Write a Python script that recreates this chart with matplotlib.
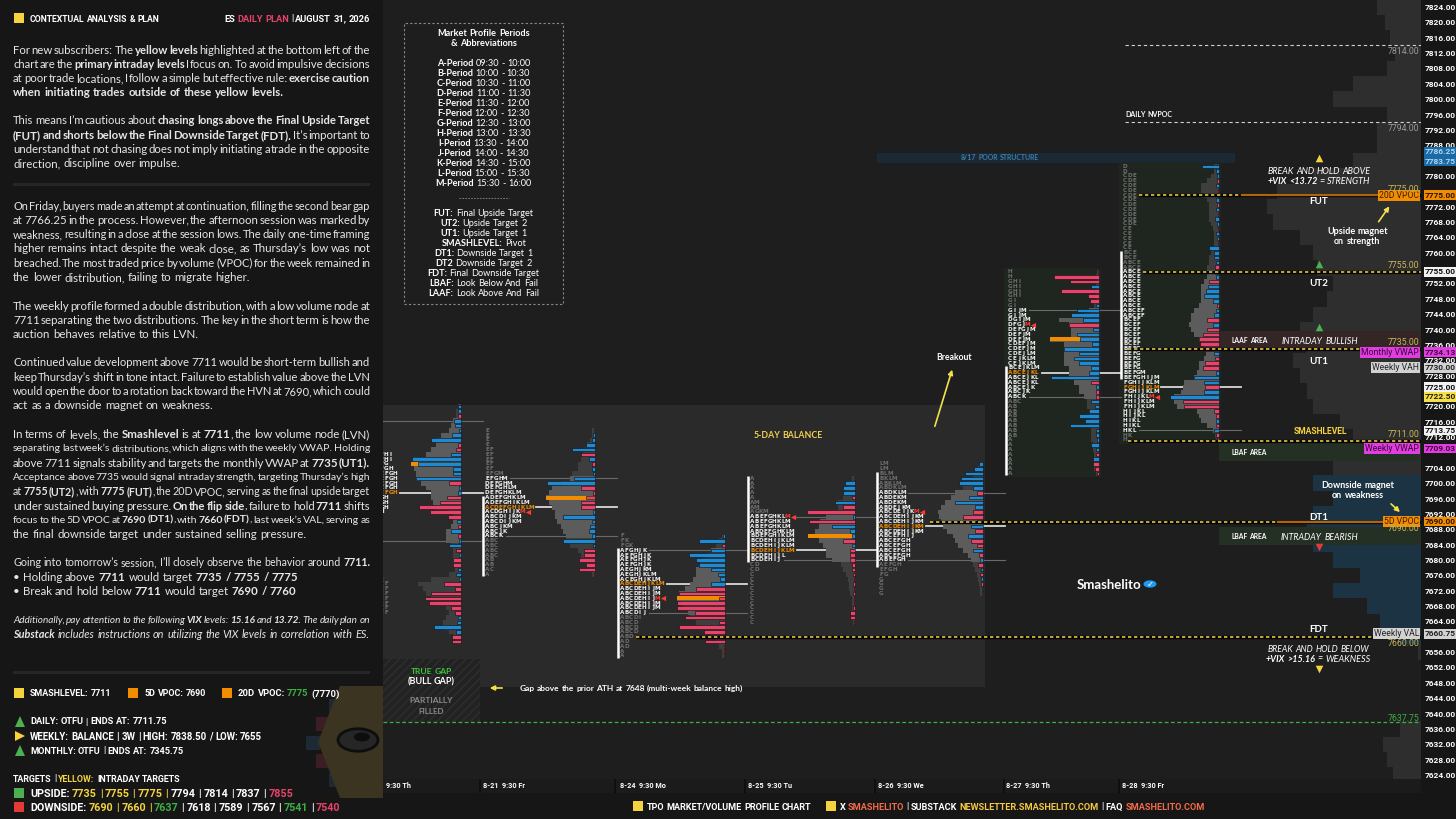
import re
import numpy as np
import matplotlib
matplotlib.use('Agg')
import matplotlib.pyplot as plt
from matplotlib.patches import Rectangle, Polygon, Circle, FancyArrowPatch

# ======================= DATA =======================
price_ticks = list(range(7624, 7825, 4))
comp_prices = list(range(7824, 7623, -4))
comp_width = [44, 36, 31, 26, 34, 68, 88, 34, 44, 44, 68, 108, 144, 154, 148, 121, 108, 104, 88, 94,
              108, 121, 115, 128, 121, 114, 108, 81, 68, 48, 88, 108, 88, 108, 114, 108, 88, 61, 88, 54,
              41, 21, 3, 0, 0, 0, 0, 21, 38, 34, 28]
comp_blue_range = (7660, 7700)

d0_tpo = ["A", "A", "AB", "AB", "AB", "ABC", "ABC", "ABC", "ABC", "ABCD",
          "BCDEFHI", "BCDEFHI", "BCDEFG", "BCDEFGH", "ABCDEFGH", "ABCDEFGH", "ABCDEFGH", "ABCDEFGH", "ABCDEFGH", "ABCDGH",
          "ABCDGH", "ABCDGH", "ABCDH", "ABCD", "ABCD", "ABC", "ABC", "ABC", "ABC", "AB",
          "AB", "AB", "AB", "AB", "ABC", "ABCD", "ABCDE", "ABCDEF", "ABCDEF", "ABCDEF",
          "ABCDEF", "ABCDEF", "ABCDEF", "ABCDEF", "ABC", "ABC", "AB", "AB", "A", "A"]
d0_vol = [3, 5, 5, 8, 10, 12, 20, 25, 25, 30, 35, 48, 50, 47, 45, 45, 40, 35, 30, 30,
          28, 25, 12, 8, 8, 10, 15, 15, 15, 10, 8, 8, 8, 8, 6, 12, 30, 43, 38, 35,
          30, 25, 15, 12, 15, 18, 18, 12, 8, 5]
d0_delta = [3, 3, -3, 7, 6, 2, 9, 30, -3, -5, 10, 49, 43, 8, 8, 45, -12, 2, 3, -14,
            -21, -42, -31, -13, 4, -3, 10, -3, 2, 12, -5, 2, -8, -8, 3, 5, 2, -17, -6, -30,
            -36, -32, -10, -6, 3, 4, 27, 5, -9, -9]

d1_tpo = ["E", "E", "E", "E", "EF", "EF", "EF", "EF", "EF", "EFGM", "EFGHM", "DEFGHM", "DEFGHLM",
          "DEFGHKLM", "ADEFGHKLM", "ADEFGHIKLM", "ACDEFGHIKLM", "ACDGHIJKM", "ABCDIJKM", "ABCDIJKM",
          "ABCJKM", "ABCJK", "ABCK", "ABC", "ABC", "ABC", "ABC", "AB", "AB", "AC", "A"]
d1_vol = [3, 3, 5, 8, 10, 12, 14, 17, 17, 23, 25, 34, 43, 46, 49, 46, 43, 40, 40, 38,
          34, 32, 29, 29, 25, 17, 14, 11, 9, 7, 3]
d1_delta = [1, 2, 3, 9, 23, -14, 6, -3, 3, 2, 21, 48, -14, -2, -9, -14, -14, 2, 32, 3,
            5, 6, 3, 32, 2, -11, -11, -16, -9, -16, -1]

d2_tpo = ["F", "FK", "FGK", "AFGHJK", "AEFGHJK", "AEFGHJK", "AEFGHJK", "AEGHJKM", "AEGHJKLM",
          "ACEGHJKLM", "ABCDEHJKLM", "ABCDEHIJM", "ABCDEHIJM", "ABCDEHIJM", "ABCDEHIJM", "ABCDEHIJM",
          "ABCDIJ", "ABCDI", "ABCD", "ABCD", "ABCD", "ABD", "AD", "AD", "A", "A"]
d2_vol = [3, 6, 9, 14, 17, 23, 25, 29, 29, 32, 35, 40, 46, 48, 44, 41, 37, 35, 29, 23, 17, 14, 9, 6, 3, 3]
d2_delta = [2, 26, -3, 14, 36, 29, 26, 14, 7, 5, 14, -29, -46, -6, -48, -48, -30, -40, -6, -46,
            -21, -23, -20, -1, -1, -1]

d3_tpo = ["A", "A", "A", "A", "A", "AM", "AM", "AGKM", "ABEFGHKLM", "ABEFGHKLM", "ABEFGHKLM",
          "ABDEFGHKLM", "BDEFGHIKLM", "BCDEHIJKLM", "BCDEHIJKLM", "BCDEHIJKLM", "BCDEHIJL", "BCDEHIJ",
          "CD", "CD", "C", "C", "C", "C", "C", "C", "C", "C", "C", "C", "C"]
d3_vol = [3, 6, 7, 9, 12, 17, 17, 23, 29, 35, 36, 40, 47, 36, 32, 29, 29, 23, 14, 12,
          9, 7, 6, 6, 5, 3, 3, 3, 3, 3, 2]
d3_delta = [1, 10, 12, 12, -3, 20, -12, -48, 2, -46, 23, 5, 3, -12, 3, -5, -5, -5, -3, -3,
            -2, -1, -2, -1, -2, -1, -1, -2, -5, -5, -1]

d4_tpo = ["LM", "LM", "BLM", "BKLM", "ABKLM", "ABDKLM", "ABDKLM", "ABDEKM", "ABDEKM", "ABDEJKM",
          "ABCDEIJKM", "ABCDEHIJKM", "ABCDEHIJKM", "ABCDEHIJKM", "ABCDEHIJKM", "ABCEFHIJ", "ABCEFGH",
          "ABCEFGH", "ABCEFGH", "ABCEFGH", "ABEFGH", "AEFGH", "EFGH", "FG", "G", "G", "G", "G"]
d4_vol = [3, 5, 8, 10, 15, 20, 28, 32, 38, 42, 45, 44, 42, 40, 36, 30, 28, 25, 20, 15,
          12, 10, 8, 6, 5, 4, 3, 3]
d4_delta = [4, 9, 18, 22, 24, 10, -6, 14, 28, 8, -10, -20, 6, 12, -8, 15, -12, -6, 10, -4,
            3, -5, 2, -3, 2, -2, 1, -1]

d5_tpo = ["H", "H", "GHI", "GHI", "GHI", "GHI", "GI", "GI", "GIJM", "GIJM", "DGIJM", "DFGJM",
          "DEFGJM", "DEFJM", "DEFJM", "CDEFJM", "CDEFJM", "CDEJLM", "CEJKLM", "CEJKLM", "BCEJKLM",
          "ABCEJKL", "ABCEJKL", "ABCEJKL", "ABCEJK", "ABCJK", "ABCK", "ABC", "AB", "AB", "AB", "AB",
          "AB", "AB", "AB", "A", "A", "A", "A", "A", "A", "A", "A"]
d5_vol = [2, 3, 3, 3, 3, 3, 3, 5, 10, 15, 40, 30, 28, 28, 49, 35, 35, 35, 35, 35,
          30, 30, 30, 25, 20, 20, 15, 12, 12, 10, 10, 10, 10, 8, 8, 8, 6, 6, 5, 5, 5, 5, 3]
d5_delta = [-1, -45, -29, 8, -38, -11, -9, 3, 22, 28, 16, -30, 6, 22, 19, 7, 35, 20, 25, 20,
            8, 10, 48, -8, 3, -3, -3, 8, 4, 10, 20, 14, 29, 3, 3, 2, 8, 3, -3, 6, -6, -4, -2]

d6_tpo = (["D", "D"] + ["CDE"] * 11 + ["CE"] * 5 + ["BCE"] * 2 + ["ABCE"] * 10 + ["ABCEF"] * 2
          + ["BCEF"] * 6 + ["BEFG"] * 5 + ["BEFGM", "BEFGHIJM", "FGHIJKLM", "FGHIJKLM", "FGHIJKLM",
          "FHIJKLM", "FHIJKLM", "FHIJKLM", "HIJKL", "HIJKL", "HIKL", "HIKL", "HKL", "HK", "H"])
d6_vol = [5, 5, 8, 12, 18, 18, 15, 12, 10, 10, 10, 10, 8, 6, 5, 5, 5, 6, 8, 10,
          10, 12, 12, 12, 15, 18, 18, 18, 18, 20, 25, 28, 28, 30, 28, 25, 20, 18, 15, 13,
          15, 20, 20, 22, 25, 35, 36, 38, 45, 45, 42, 22, 20, 18, 12, 6, 4, 3]
d6_delta = [17, 3, 2, -2, 3, -1, -2, 3, -2, 3, -1, 4, 2, -1, 3, 2, -1, 10, 5, 5,
            3, -4, 4, 3, -10, 11, 13, 15, 6, -2, 3, 5, -12, 6, -12, -16, -20, -19, -28, 5,
            -4, -14, -16, 3, 25, 15, -14, 15, 49, -36, -35, -5, -3, 3, -3, 5, -3, -2]

days_tpo = [d0_tpo, d1_tpo, d2_tpo, d3_tpo, d4_tpo, d5_tpo, d6_tpo]
days_vol = [d0_vol, d1_vol, d2_vol, d3_vol, d4_vol, d5_vol, d6_vol]
days_delta = [d0_delta, d1_delta, d2_delta, d3_delta, d4_delta, d5_delta, d6_delta]
day_top = [7720.0, 7713.75, 7686.25, 7701.25, 7705.0, 7755.0, 7782.5]
day_va = [(4, 29), (11, 23), (4, 17), (9, 18), (7, 21), (9, 27), (23, 56)]
day_tpoc = [19, 17, 11, 16, 14, 22, 47]
day_vpoc = [13, 15, 14, 13, None, 15, None]
day_close_row = [None, 18, 14, 9, 11, 12, 49]
day_labels = ['9:30 Th', '8-21  9:30 Fr', '8-24  9:30 Mo', '8-25  9:30 Tu', '8-26  9:30 We',
              '8-27  9:30 Th', '8-28  9:30 Fr']

levels = [7775, 7755, 7735, 7711, 7690, 7660]
level_names = ['FUT', 'UT2', 'UT1', 'SMASHLEVEL', 'DT1', 'FDT']
nvpoc_levels = [7814, 7794]
gap_level = 7637.75
vpoc20, vpoc5 = 7775, 7690
laaf_zone = (7734.9, 7739.6)
lbaf_zones = [(7705.8, 7710.5), (7683.9, 7688.6)]
poor_zone = (7783.5, 7786.0)
balance_zone = (7646.9, 7720.4)
gap_zone = (7637.8, 7654.2)

axis_tags = [(7786.25, '#1c6aa3', '#a9d6f7'), (7783.75, '#1c6aa3', '#a9d6f7'), (7775.00, '#f28c00', '#2a1400'),
             (7755.00, '#f2f2f2', '#111111'), (7734.13, '#e03ee0', '#3a003a'), (7730.00, '#d2d2d2', '#222222'),
             (7725.00, '#f2f2f2', '#111111'), (7722.50, '#f5df4d', '#222200'), (7713.75, '#f2f2f2', '#111111'),
             (7709.03, '#e03ee0', '#3a003a'), (7690.00, '#f28c00', '#2a1400'), (7660.75, '#d2d2d2', '#222222')]
side_tags = [('20D VPOC', 7775.0, '#f28c00', '#3a1a00'), ('Monthly VWAP', 7734.13, '#e03ee0', '#3a003a'),
             ('Weekly VAH', 7730.0, '#d2d2d2', '#222222'), ('Weekly VWAP', 7709.03, '#e03ee0', '#3a003a'),
             ('5D VPOC', 7690.0, '#f28c00', '#3a1a00'), ('Weekly VAL', 7660.75, '#d2d2d2', '#222222')]

periods = [('A', '09:30 - 10:00'), ('B', '10:00 - 10:30'), ('C', '10:30 - 11:00'), ('D', '11:00 - 11:30'),
           ('E', '11:30 - 12:00'), ('F', '12:00 - 12:30'), ('G', '12:30 - 13:00'), ('H', '13:00 - 13:30'),
           ('I', '13:30 - 14:00'), ('J', '14:00 - 14:30'), ('K', '14:30 - 15:00'), ('L', '15:00 - 15:30'),
           ('M', '15:30 - 16:00')]
abbrevs = [('FUT:', 'Final Upside Target'), ('UT2:', 'Upside Target 2'), ('UT1:', 'Upside Target 1'),
           ('SMASHLEVEL:', 'Pivot'), ('DT1:', 'Downside Target 1'), ('DT2', 'Downside Target 2'),
           ('FDT:', 'Final Downside Target'), ('LBAF:', 'Look Below And Fail'), ('LAAF:', 'Look Above And Fail')]

upside_targets = [7735, 7755, 7775, 7794, 7814, 7837, 7855]
upside_kind = ['y', 'y', 'y', 'w', 'w', 'w', 'r']
downside_targets = [7690, 7660, 7637, 7618, 7589, 7567, 7541, 7540]
downside_kind = ['y', 'y', 'g', 'w', 'w', 'w', 'g', 'r']

paragraphs = [
    ["For new subscribers: The **yellow levels** highlighted at the bottom left of the",
     "chart are the **primary intraday levels** I focus on. To avoid impulsive decisions",
     "at poor trade locations, I follow a simple but effective rule: **exercise caution**",
     "**when initiating trades outside of these yellow levels.**"],
    ["This means I’m cautious about **chasing longs above the Final Upside Target**",
     "**(FUT) and shorts below the Final Downside Target (FDT).** It’s important to",
     "understand that not chasing does not imply initiating a trade in the opposite",
     "direction, discipline over impulse."],
    ["On Friday, buyers made an attempt at continuation, filling the second bear gap",
     "at 7766.25 in the process. However, the afternoon session was marked by",
     "weakness, resulting in a close at the session lows. The daily one-time framing",
     "higher remains intact despite the weak close, as Thursday’s low was not",
     "breached. The most traded price by volume (VPOC) for the week remained in",
     "the lower distribution, failing to migrate higher."],
    ["The weekly profile formed a double distribution, with a low volume node at",
     "7711 separating the two distributions. The key in the short term is how the",
     "auction behaves relative to this LVN."],
    ["Continued value development above 7711 would be short-term bullish and",
     "keep Thursday’s shift in tone intact. Failure to establish value above the LVN",
     "would open the door to a rotation back toward the HVN at 7690, which could",
     "act as a downside magnet on weakness."],
    ["In terms of levels, the **Smashlevel** is at **7711**, the low volume node (LVN)",
     "separating last week’s distributions, which aligns with the weekly VWAP. Holding",
     "above 7711 signals stability and targets the monthly VWAP at **7735 (UT1).**",
     "Acceptance above 7735 would signal intraday strength, targeting Thursday’s high",
     "at **7755 (UT2)**, with **7775 (FUT)**, the 20D VPOC, serving as the final upside target",
     "under sustained buying pressure. **On the flip side**, failure to hold **7711** shifts",
     "focus to the 5D VPOC at **7690 (DT1)**, with **7660 (FDT)**, last week’s VAL, serving as",
     "the final downside target under sustained selling pressure."],
    ["Going into tomorrow’s session, I’ll closely observe the behavior around **7711.**",
     "• Holding above **7711** would target **7735 / 7755 / 7775**",
     "• Break and hold below **7711** would target **7690 / 7760**"],
    ["~Additionally, pay attention to the following **VIX** levels: **15.16** and **13.72.** The daily plan on~",
     "~**Substack** includes instructions on utilizing the VIX levels in correlation with ES.~"],
]
para_y = [49, 120, 205, 305, 362, 433.5, 562, 619.5]
para_justify = [True, True, True, True, True, True, False, True]

# ======================= STYLE / LAYOUT =======================
W, H = 1456, 819
BG_LEFT, BG_CHART = '#161616', '#1e1e1e'
TXT = '#e6e6e6'
YEL, ORG, GRN, RED, BLUE = '#f5d33f', '#f28c00', '#3cb043', '#e8436a', '#1f8ad2'
BODY = ['Lato', 'DejaVu Sans']
SANS = ['Lato', 'DejaVu Sans']
COND = ['Roboto', 'DejaVu Sans']
LETF = ['DejaVu Sans']
NUMF = ['Roboto', 'DejaVu Sans']
XL, XR = 383, 1421

fig = plt.figure(figsize=(W / 100, H / 100), dpi=100, facecolor=BG_LEFT)
R = fig.canvas.get_renderer()


def Y(ypx):
    return 7824.0 - (ypx - 7.0) / 3.84


def PX(price):
    return 7.0 + (7824.0 - price) * 3.84


def props(fam, size, b, i, stretch):
    return dict(family=fam, fontsize=size, fontweight='bold' if b else 'normal',
                fontstyle='italic' if i else 'normal', fontstretch=stretch)


_mcache = {}


def measure_raw(s, p):
    key = (s, tuple(p['family']), p['fontsize'], p['fontweight'], p['fontstyle'], p['fontstretch'])
    if key in _mcache:
        return _mcache[key]
    t = fig.text(0, 0, s, **p)
    w = t.get_window_extent(renderer=R).width
    t.remove()
    _mcache[key] = w
    return w


def measure(s, p):
    # advance-based width (includes side bearings)
    return measure_raw('x' + s + 'x', p) - measure_raw('xx', p)


def parse(markup, color=None):
    out, b, i = [], False, False
    for tok in re.split(r'(\*\*|~)', markup):
        if tok == '**':
            b = not b
        elif tok == '~':
            i = not i
        elif tok:
            out.append((tok, b, i, color))
    return out


def words_of(segs):
    words = [[]]
    for text, b, i, c in segs:
        parts = text.split(' ')
        for k, p in enumerate(parts):
            if k:
                words.append([])
            if p:
                words[-1].append((p, b, i, c))
    return [w for w in words if w]


def layout(segs, fam, size, stretch):
    words = words_of(segs)
    ww = [[measure(p, props(fam, size, b, i, stretch)) for (p, b, i, c) in w] for w in words]
    pn = props(fam, size, False, False, stretch)
    sp = measure_raw('x x', pn) - measure_raw('xx', pn)
    return words, ww, sp


def natural(segs, size, fam, stretch='normal', gapscale=1.0):
    words, ww, sp = layout(segs, fam, size, stretch)
    return sum(sum(a) for a in ww) + sp * gapscale * (len(words) - 1)


def draw_rich(segs, x, y, size, fam=BODY, color=TXT, width=None, justify=False, align='left',
              stretch='normal', zorder=10, limit=None):
    words, ww, sp = layout(segs, fam, size, stretch)
    n = len(words)
    tot = sum(sum(a) for a in ww)
    gap = sp
    if justify and n > 1 and width:
        gap = (width - tot) / (n - 1)
    total = tot + gap * (n - 1)
    x0 = x - total / 2 if align == 'center' else (x - total if align == 'right' else x)
    cx = x0
    objs = []
    for wi, (w, a) in enumerate(zip(words, ww)):
        for (p, b, i, c), fw in zip(w, a):
            t = fig.text(cx / W, 1 - y / H, p, color=c or color, ha='left', va='center_baseline',
                         zorder=zorder, **props(fam, size, b, i, stretch))
            objs.append((t, wi))
            cx += fw
        cx += gap
    if n > 1 and objs:
        right = objs[-1][0].get_window_extent(renderer=R).x1
        target = None
        if justify and width:
            target = x + width
        elif limit is not None and right > limit:
            target = limit
        if target is not None:
            e = right - target
            for t, wi in objs:
                px, py = t.get_position()
                t.set_x(px - e * wi / (n - 1) / W)
    return total


def draw_fit(segs, x, y, target, fam=COND, color='white', align='left', stretch='normal',
             size0=10, maxsize=None):
    nat = natural(segs, size0, fam, stretch)
    s = size0 * target / nat
    if maxsize:
        s = min(s, maxsize)
    draw_rich(segs, x, y, s, fam, color, align=align, stretch=stretch)
    return s


def frect(x0, y0, x1, y1, **kw):
    fig.add_artist(Rectangle((x0 / W, 1 - y1 / H), (x1 - x0) / W, (y1 - y0) / H,
                             transform=fig.transFigure, **kw))


def fpoly(pts, **kw):
    fig.add_artist(Polygon([(x / W, 1 - y / H) for x, y in pts], closed=True,
                           transform=fig.transFigure, **kw))


def farrow(x1, y1, x2, y2, color='#f2e14c'):
    fig.add_artist(FancyArrowPatch((x1 / W, 1 - y1 / H), (x2 / W, 1 - y2 / H), transform=fig.transFigure,
                                   arrowstyle='-|>', mutation_scale=7, color=color, lw=1.2, zorder=20))


# ======================= LEFT PANEL =======================
frect(14, 13, 24, 23, fc=YEL, ec='none')
draw_fit([("CONTEXTUAL ANALYSIS & PLAN", True, False, 'white')], 30, 18, 130)
draw_fit([("ES ", True, False, 'white'), ("DAILY PLAN", True, False, RED),
          (" | AUGUST 31, 2026", True, False, 'white')], 370, 18, 147, align='right')

LX0, LX1 = 13, 370
AVAIL = LX1 - LX0
BASE = 8.3
for para, y0, jus in zip(paragraphs, para_y, para_justify):
    for j, ln in enumerate(para):
        segs = parse(ln)
        justify = jus and j < len(para) - 1
        size = BASE
        nat = natural(segs, size, BODY, gapscale=0.45 if justify else 1.0)
        if nat > AVAIL:
            size = BASE * AVAIL / nat
        draw_rich(segs, LX0, y0 + j * 14.3, size, BODY, TXT, width=AVAIL, justify=justify, limit=LX1)

for yy in (184, 672):
    frect(13, yy - 1.5, 370, yy + 1.5, fc='#262626', ec='none')

# logo (partially hidden behind chart)
for (x0, y0, c) in [(329, 699, '#1d2a36'), (316, 717, '#3a1e24'), (306, 736, '#1d2a36'),
                    (316, 754, '#3a1e24'), (329, 773, '#1d2a36')]:
    frect(x0, y0, x0 + 14, y0 + 14, fc=c, ec='none')
fpoly([(383, 686), (340, 686), (318, 742), (340, 798), (383, 798)], fc='#3a3420', ec='none')
fig.add_artist(Circle((358 / W, 1 - 740 / H), 20 / W, transform=fig.transFigure, fc='#262626', ec='#0e0e0e', lw=2))
fig.add_artist(Circle((362 / W, 1 - 737 / H), 8 / W, transform=fig.transFigure, fc='#0e0e0e', ec='none'))

# legend rows
frect(14, 688, 24, 698, fc=YEL, ec='none')
draw_fit([("SMASHLEVEL: 7711", True, False, 'white')], 30, 693, 82)
frect(128, 688, 138, 698, fc=ORG, ec='none')
draw_fit([("5D VPOC: 7690", True, False, 'white')], 145, 693, 62)
frect(222, 688, 232, 698, fc=ORG, ec='none')
draw_fit([("20D VPOC: ", True, False, 'white'), ("7775", True, False, GRN), (" (7770)", True, False, 'white')],
         238, 693, 101)

fpoly([(15, 727), (25, 727), (20, 716)], fc='#4caf50', ec='none')
draw_fit([("DAILY: OTFU | ENDS AT: 7711.75", True, False, 'white')], 30, 721, 138)
fpoly([(15, 731), (15, 741), (25, 736)], fc=YEL, ec='none')
draw_fit([("WEEKLY: BALANCE | 3W | HIGH: 7838.50 / LOW: 7655", True, False, 'white')], 30, 736, 232)
fpoly([(15, 756), (25, 756), (20, 745)], fc='#4caf50', ec='none')
draw_fit([("MONTHLY: OTFU | ENDS AT: 7345.75", True, False, 'white')], 30, 750, 155)

draw_fit([("TARGETS | ", True, False, 'white'), ("YELLOW:", True, False, YEL),
          (" INTRADAY TARGETS", True, False, 'white')], 13, 778, 169)

kc = {'y': YEL, 'w': 'white', 'g': GRN, 'r': RED}


def target_segs(head, vals, kinds):
    segs = [(head + " ", True, False, 'white')]
    for k, (v, kd) in enumerate(zip(vals, kinds)):
        segs.append((str(v), True, False, kc[kd]))
        if k < len(vals) - 1:
            segs.append((" | ", True, False, YEL if kd == 'y' else 'white'))
    return segs


frect(14, 788, 24, 798, fc='#4caf50', ec='none')
draw_fit(target_segs("UPSIDE:", upside_targets, upside_kind), 30, 793, 263)
frect(14, 802, 24, 812, fc='#e53935', ec='none')
draw_fit(target_segs("DOWNSIDE:", downside_targets, downside_kind), 30, 807, 311)

# ======================= CHART AXES =======================
ax = fig.add_axes([XL / W, 1 - 779 / H, (XR - XL) / W, 779 / H])
ax.set_xlim(XL, XR)
ax.set_ylim(Y(779), Y(0))
ax.set_facecolor(BG_CHART)
for s in ax.spines.values():
    s.set_visible(False)
ax.set_xticks([])
ax.yaxis.tick_right()
ax.set_yticks(price_ticks)
tag_prices = [p for p, _, _ in axis_tags]
ax.set_yticklabels(['' if min(abs(t - q) for q in tag_prices) < 1.5 else f'{t:.2f}' for t in price_ticks],
                   fontweight='bold', family=NUMF)
ax.tick_params(axis='y', length=0, pad=3, labelsize=6.0, labelcolor='white')

# composite volume profile
ccol = ['#1c3343' if comp_blue_range[0] <= p <= comp_blue_range[1] else '#2e2e2e' for p in comp_prices]
ax.barh(comp_prices, comp_width, left=[XR - w for w in comp_width], height=4, color=ccol, lw=0, zorder=1)

# zones
ax.add_patch(Rectangle((XL, balance_zone[0]), 985 - XL, balance_zone[1] - balance_zone[0], fc='#2a2a2a', ec='none', zorder=0.9))
ax.add_patch(Rectangle((XL, gap_zone[0]), 480 - XL, gap_zone[1] - gap_zone[0], fc='#222222', ec='#2e2e2e',
                       hatch='////', lw=0, zorder=0.95))
ax.add_patch(Rectangle((877, poor_zone[0]), 1235 - 877, poor_zone[1] - poor_zone[0], fc='#1b2935', ec='none', zorder=1.1))
ax.add_patch(Rectangle((1219, laaf_zone[0]), XR - 1219, laaf_zone[1] - laaf_zone[0], fc='#352626', ec='none', zorder=1.5))
for lo, hi in lbaf_zones:
    ax.add_patch(Rectangle((1219, lo), XR - 1219, hi - lo, fc='#243024', ec='none', zorder=1.5))

# day TPO profiles
ROW = 1.25
LP = 4.4
day_x0 = [362, 485, 620, 750, 879, 1008, 1123]
day_xr = [461, 595, 725, 855, 983, 1099, 1219]
day_bg = [False, False, False, False, False, True, True]
for k in range(7):
    tpo, vol, dl = days_tpo[k], days_vol[k], days_delta[k]
    x0, xr = day_x0[k], day_xr[k]
    prices = [day_top[k] - ROW * i for i in range(len(tpo))]
    va_lo, va_hi = day_va[k]
    if day_bg[k]:
        ax.add_patch(Rectangle((x0 - 4, prices[-1] - ROW / 2 - 0.4), xr - x0 + 6,
                               prices[0] - prices[-1] + ROW + 0.8, fc='#1f261f', ec='none', zorder=1.2))
    vcol = ['#5c5c5c' if va_lo <= i + 1 <= va_hi else '#3e3e3e' for i in range(len(tpo))]
    ax.barh(prices, vol, left=[xr - v for v in vol], height=ROW, color=vcol, lw=0, zorder=3)
    if day_vpoc[k]:
        r = day_vpoc[k] - 1
        ax.barh([prices[r]], [vol[r]], left=[xr - vol[r]], height=ROW * 0.85, color=ORG, lw=0, zorder=3.5)
    ax.barh(prices, [abs(d) for d in dl], left=[xr - abs(d) for d in dl], height=ROW * 0.74,
            color=[BLUE if d > 0 else RED for d in dl], edgecolor='#0c0c0c', lw=0.4, zorder=4)
    for i, s in enumerate(tpo):
        r = i + 1
        col = ORG if r == day_tpoc[k] else ('#f2f2f2' if va_lo <= r <= va_hi else '#6e6e6e')
        for j, ch in enumerate(s):
            c = col
            if r == day_close_row[k] and j == len(s) - 1:
                c = '#ff3b30'
            ax.text(x0 + j * LP + LP / 2, prices[i], ch, fontsize=4.1, family=LETF, fontweight='bold',
                    color=c, ha='center', va='center', zorder=5, clip_on=True)
        if r == day_close_row[k]:
            ax.scatter([x0 + len(s) * LP + 3], [prices[i]], marker='<', s=14, color='#ff3b30', lw=0, zorder=5)
    ab = [prices[i] for i, s in enumerate(tpo) if ('A' in s or 'B' in s)]
    if ab:
        ax.plot([x0 - 2.5, x0 - 2.5], [max(ab) + 0.5, min(ab) - 0.5], color='white', lw=1.8,
                zorder=5, solid_capstyle='butt')
    i = day_tpoc[k] - 1
    ax.plot([x0 + len(tpo[i]) * LP + 3, xr + 22], [prices[i]] * 2, color='#d8d8d8', lw=1.3, zorder=2.5)
    for r in (va_lo, va_hi):
        i = r - 1
        ax.plot([x0 + len(tpo[i]) * LP + 3, xr + 22], [prices[i]] * 2, color='#6a6a6a', lw=0.8, zorder=2.5)

# level lines
level_start = [1139, 1143, 1128, 1128, 930, 636]
for p, xs in zip(levels, level_start):
    ax.plot([xs, XR], [p, p], color='#050505', lw=2.4, zorder=6, solid_capstyle='butt')
    ax.plot([xs, XR], [p, p], color='#e3c343', lw=1.2, ls=(0, (2, 1.6)), zorder=6.1)
for p in nvpoc_levels:
    ax.plot([1125, XR], [p, p], color='#cfcfcf', lw=0.8, ls=(0, (3, 2.5)), zorder=6)
ax.plot([XL, XR], [gap_level, gap_level], color=GRN, lw=0.9, ls=(0, (3, 2)), zorder=6)
ax.plot([1242, 1381], [vpoc20, vpoc20], color='#b0640c', lw=1.6, zorder=6.5)
ax.plot([1278, 1385], [vpoc5, vpoc5], color='#b0640c', lw=1.6, zorder=6.5)

# markers
ax.scatter([1319], [Y(158)], marker='^', s=30, color=YEL, zorder=8, lw=0)
ax.scatter([1319], [Y(264)], marker='^', s=30, color='#4caf50', zorder=8, lw=0)
ax.scatter([1319], [Y(327)], marker='^', s=30, color='#4caf50', zorder=8, lw=0)
ax.scatter([1319], [Y(547)], marker='v', s=30, color='#e53935', zorder=8, lw=0)
ax.scatter([1319], [Y(669)], marker='v', s=30, color=YEL, zorder=8, lw=0)

# right axis tags
for p, bg, tc in axis_tags:
    ax.text(1425, p, f'{p:.2f}', ha='left', va='center', fontsize=6.0, fontweight='bold', family=NUMF,
            color=tc, clip_on=False, zorder=30,
            bbox=dict(boxstyle='square,pad=0.15', fc=bg, ec='none'))
for lab, p, bg, tc in side_tags:
    ax.text(1419, p, lab, ha='right', va='center', fontsize=6.2, family=NUMF, color=tc,
            clip_on=False, zorder=30, bbox=dict(boxstyle='square,pad=0.12', fc=bg, ec='none'))

# level value labels
LVC = '#c8b45a'
for p, off in zip(levels, [-6, -6, -6, -6, 7, 7]):
    fig.text(1419 / W, 1 - (PX(p) + off) / H, f'{p:.2f}', ha='right', va='center', fontsize=6.3,
             family=NUMF, color=LVC, zorder=12)
for p in nvpoc_levels:
    fig.text(1419 / W, 1 - (PX(p) + 6) / H, f'{p:.2f}', ha='right', va='center', fontsize=6.3,
             family=NUMF, color='#9a9a9a', zorder=12)
fig.text(1419 / W, 1 - (PX(gap_level) - 4) / H, f'{gap_level:.2f}', ha='right', va='center', fontsize=6.3,
         family=NUMF, color=GRN, zorder=12)

# level names
for name, yy in zip(['FUT', 'UT2', 'UT1', 'DT1', 'FDT'], [200, 283, 360, 516, 628]):
    draw_rich([(name, True, False, 'white')], 1319, yy, 7, SANS, align='center')
draw_fit([("SMASHLEVEL", True, False, '#f5d33f')], 1320, 431, 54, align='center')

draw_fit([("BREAK AND HOLD ABOVE", False, True, 'white')], 1319, 171, 103, fam=SANS, align='center')
draw_fit([("+VIX <13.72", True, True, 'white'), (" = STRENGTH", False, True, 'white')], 1319, 181, 103,
         fam=SANS, align='center')
draw_fit([("BREAK AND HOLD BELOW", False, True, 'white')], 1318, 648, 102, fam=SANS, align='center')
draw_fit([("+VIX >15.16", True, True, 'white'), (" = WEAKNESS", False, True, 'white')], 1318, 658, 104,
         fam=SANS, align='center')
draw_fit([("LAAF AREA", True, False, 'white')], 1232, 340, 36, fam=SANS)
draw_fit([("INTRADAY BULLISH", False, True, 'white')], 1282, 340, 76, fam=SANS)
draw_fit([("LBAF AREA", True, False, 'white')], 1231, 452, 36, fam=SANS)
draw_fit([("LBAF AREA", True, False, 'white')], 1231, 536, 36, fam=SANS)
draw_fit([("INTRADAY BEARISH", False, True, 'white')], 1281, 536, 77, fam=SANS)
draw_fit([("Upside magnet", True, False, 'white')], 1358, 231, 61, fam=SANS, align='center')
draw_fit([("on strength", True, False, 'white')], 1357, 241, 46, fam=SANS, align='center')
draw_fit([("Downside magnet", True, False, 'white')], 1358, 485, 73, fam=SANS, align='center')
draw_fit([("on weakness", True, False, 'white')], 1358, 495, 52, fam=SANS, align='center')
farrow(1377, 224, 1391, 204)
farrow(1389, 502, 1402, 514)
draw_fit([("DAILY NVPOC", True, False, 'white')], 1125, 114, 47, fam=SANS)
draw_fit([("Breakout", True, False, 'white')], 954, 357, 36, fam=SANS, align='center')
farrow(934, 429, 953, 367)
draw_fit([("5-DAY BALANCE", True, False, '#f0d050')], 788, 435, 69, fam=SANS, align='center')
draw_fit([("8/17 POOR STRUCTURE", True, False, '#3b7fb0')], 1000, 157, 78, fam=SANS, align='center')
draw_fit([("TRUE GAP", True, False, '#3cc43c')], 431, 671, 41, fam=SANS, align='center')
draw_fit([("(BULL GAP)", True, False, 'white')], 431, 681, 48, fam=SANS, align='center')
draw_fit([("PARTIALLY", True, False, '#8a8a8a')], 431, 700, 44, fam=SANS, align='center')
draw_fit([("FILLED", True, False, '#8a8a8a')], 431, 711, 26, fam=SANS, align='center')
farrow(505, 688, 487, 688)
draw_fit([("Gap above the prior ATH at 7648 (multi-week balance high)", True, False, 'white')], 520, 688, 222,
         fam=SANS)
draw_fit([("Smashelito", True, False, 'white')], 1077, 584, 65, fam=SANS)
fig.add_artist(Circle((1150 / W, 1 - 584 / H), 6.5 / W, transform=fig.transFigure, fc='#1d9bf0', ec='none', zorder=12))
fig.text(1150 / W, 1 - 584 / H, '✓', ha='center', va='center', fontsize=6, fontweight='bold',
         family=['DejaVu Sans'], color='white', zorder=13)

# market profile legend box
frect(404, 23, 563, 304, fill=False, ec='#8a8a8a', lw=0.8, ls=(0, (2, 2)))
CX = 483.5
ls = natural([("A-Period", True, False, None), (" " + periods[0][1], False, False, None)], 6, SANS)
lsize = 6 * 95 / ls
draw_rich([("Market Profile Periods", True, False, 'white')], CX, 33, lsize, SANS, align='center')
draw_rich([("& Abbreviations", True, False, 'white')], CX, 43, lsize, SANS, align='center')
for k, (letter, tm) in enumerate(periods):
    draw_rich([(f"{letter}-Period", True, False, 'white'), (" " + tm, False, False, 'white')],
              CX, 63 + 10 * k, lsize, SANS, align='center')
fig.add_artist(plt.Line2D([459 / W, 509 / W], [1 - 198 / H] * 2, transform=fig.transFigure,
                          color='#8a8a8a', lw=0.6, ls=(0, (2, 1.5))))
for k, (ab, desc) in enumerate(abbrevs):
    draw_rich([(ab, True, False, 'white'), (" " + desc, False, False, 'white')],
              CX, 213 + 10 * k, lsize, SANS, align='center')

# date strip
frect(XL, 779, XR, 793, fc='#1b1b1b', ec='none')
for xs in (480, 615, 745, 875, 1004, 1119):
    frect(xs - 1, 779, xs + 1, 793, fc='#0f0f0f', ec='none')
for lab, xx in zip(day_labels, [386, 483, 620, 748, 878, 1006, 1122]):
    fig.text(xx / W, 1 - 786 / H, lab, ha='left', va='center', fontsize=5.2, family=NUMF,
             fontweight='bold', color='white', zorder=12)

# footer
frect(633, 801, 643, 811, fc=YEL, ec='none')
draw_fit([("TPO MARKET/VOLUME PROFILE CHART", True, False, 'white')], 647, 806, 164)
frect(826, 801, 836, 811, fc=YEL, ec='none')
draw_fit([("X ", True, False, 'white'), ("SMASHELITO", True, False, '#f26b4a'), (" | SUBSTACK ", True, False, 'white'),
          ("NEWSLETTER.SMASHELITO.COM", True, False, '#f5c842'), (" | FAQ ", True, False, 'white'),
          ("SMASHELITO.COM", True, False, '#f26b4a')], 840, 806, 366)

fig.savefig('out.png', dpi=100, facecolor=fig.get_facecolor())
